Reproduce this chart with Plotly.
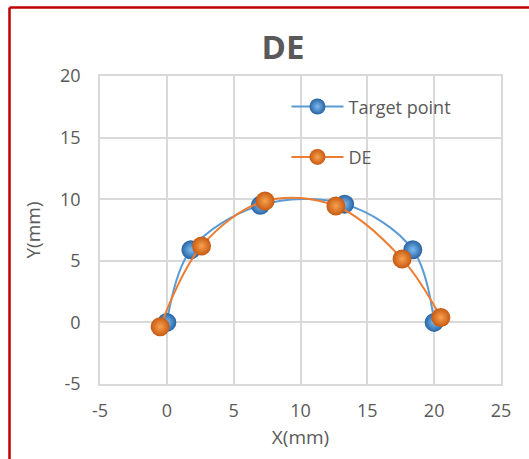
import plotly.graph_objects as go

# Measured trajectory points (mm)
target_x = [0.0, 1.8, 7.0, 13.3, 18.4, 20.0]
target_y = [0.0, 5.9, 9.5, 9.6, 5.9, 0.0]

de_x = [-0.5, 2.6, 7.35, 12.65, 17.6, 20.5]
de_y = [-0.35, 6.2, 9.85, 9.45, 5.15, 0.4]

x_ticks = [-5, 0, 5, 10, 15, 20, 25]
x_labels = ["-5", "0", "5", "10", "15", "20", "25"]
y_ticks = [-5, 0, 5, 10, 15, 20]
y_labels = ["-5", "0", "5", "10", "15", "20"]

FONT = "Open Sans"
GREY = "#595959"
GRID = "#D9D9D9"

fig = go.Figure()

# Shaded ball markers: edge colour in marker.color, highlight at the centre
fig.add_trace(go.Scatter(
    x=target_x, y=target_y, name="Target point", mode="lines+markers",
    legendgroup="t",
    line=dict(color="#5B9BD5", width=2, shape="spline", smoothing=1),
    marker=dict(size=19, color="#2763A3", line=dict(width=0),
                gradient=dict(type="radial", color="#7DBCF0")),
))
fig.add_trace(go.Scatter(
    x=de_x, y=de_y, name="DE", mode="lines+markers",
    legendgroup="d",
    line=dict(color="#ED7D31", width=2, shape="spline", smoothing=1),
    marker=dict(size=19, color="#C65A12", line=dict(width=0),
                gradient=dict(type="radial", color="#F9A24E")),
))

axis_common = dict(
    showgrid=True, gridcolor=GRID, gridwidth=1.5,
    zeroline=False, showline=True, mirror=True, linecolor=GRID, linewidth=1.5,
    ticks="", tickfont=dict(family=FONT, size=18, color=GREY),
)

fig.update_layout(
    width=529, height=459,
    margin=dict(l=100, r=28, t=76, b=75),
    paper_bgcolor="white", plot_bgcolor="white",
    font=dict(family=FONT, color=GREY),
    title=dict(text="<b>DE</b>", x=0.535, xanchor="center", y=0.897, yanchor="middle",
               font=dict(family=FONT, size=33, color=GREY)),
    xaxis=dict(range=[-5, 25], tickvals=x_ticks, ticktext=x_labels, ticklabelstandoff=10,
               title=dict(text="X(mm)", standoff=9, font=dict(family=FONT, size=19, color=GREY)),
               **axis_common),
    yaxis=dict(range=[-5, 20], tickvals=y_ticks, ticktext=y_labels, ticklabelstandoff=14,
               title=dict(text="Y(mm)", standoff=14, font=dict(family=FONT, size=19, color=GREY)),
               **axis_common),
    legend=dict(x=0.465, xanchor="left", y=0.96, yanchor="top",
                bgcolor="rgba(0,0,0,0)", tracegroupgap=24, itemwidth=52,
                font=dict(family=FONT, size=18, color=GREY)),
    shapes=[
        dict(type="line", xref="paper", yref="paper",
             x0=-0.2257, x1=-0.2257, y0=-0.35, y1=1.2224,
             line=dict(color="#C00000", width=2.5)),
        dict(type="line", xref="paper", yref="paper",
             x0=-0.2257, x1=1.2, y0=1.2224, y1=1.2224,
             line=dict(color="#C00000", width=2.5)),
    ],
)

fig.write_html("out.html")
